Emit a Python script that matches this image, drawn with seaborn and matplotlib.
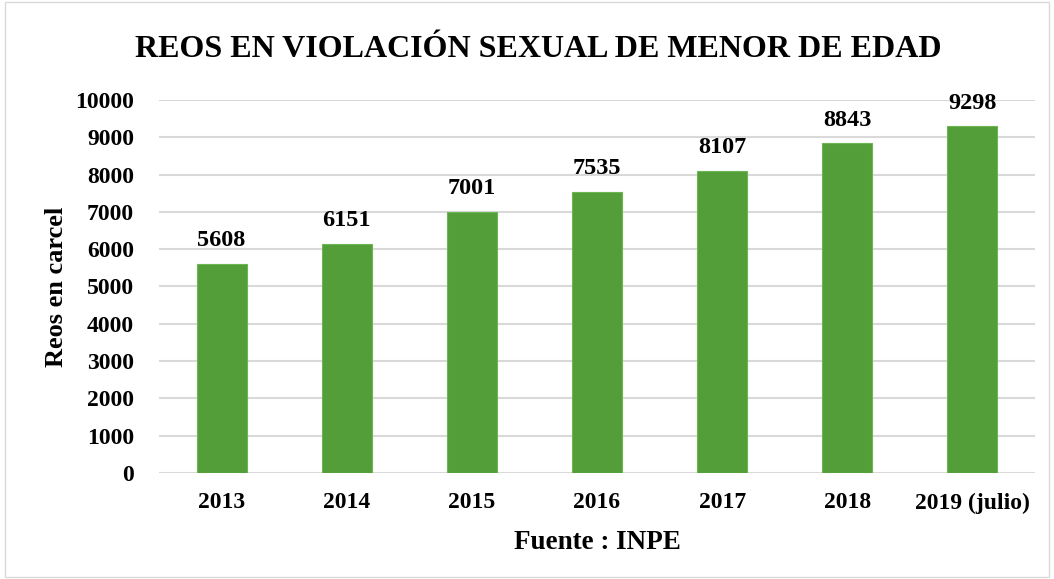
import matplotlib
matplotlib.use("Agg")
import matplotlib.pyplot as plt
import pandas as pd
import seaborn as sns

# data
years = ["2013", "2014", "2015", "2016", "2017", "2018", "2019 (julio)"]
reos = [5608, 6151, 7001, 7535, 8107, 8843, 9298]
y_ticks = list(range(0, 10001, 1000))

df = pd.DataFrame({"anio": years, "reos": reos})

sns.set_theme(style="white")
plt.rcParams["font.family"] = ["Liberation Serif", "DejaVu Serif"]
plt.rcParams["font.weight"] = "bold"
plt.rcParams["text.color"] = "black"
plt.rcParams["axes.labelcolor"] = "black"
plt.rcParams["xtick.color"] = "black"
plt.rcParams["ytick.color"] = "black"

fig = plt.figure(figsize=(10.54, 5.79), dpi=100)
ax = fig.add_axes([0.1509, 0.1831, 0.8311, 0.6442])

sns.barplot(data=df, x="anio", y="reos", color="#549E39", saturation=1,
            width=0.4, edgecolor="#6DB552", linewidth=0.8, ax=ax, zorder=3)

ax.set_ylim(0, 10000)
ax.set_yticks(y_ticks)
ax.yaxis.grid(True, color="#D9D9D9", linewidth=1.5, zorder=0)
ax.xaxis.grid(False)
for s in ax.spines.values():
    s.set_visible(False)
ax.tick_params(axis="both", length=0, labelsize=17)
ax.tick_params(axis="y", pad=18)
ax.tick_params(axis="x", pad=14)
for lab in ax.get_xticklabels() + ax.get_yticklabels():
    lab.set_fontweight("bold")

for p, v in zip(ax.patches, reos):
    ax.annotate(str(v), (p.get_x() + p.get_width() / 2, p.get_height()),
                xytext=(0, 9), textcoords="offset points", ha="center",
                va="bottom", fontsize=17.5, fontweight="bold")

ax.set_xlabel("Fuente : INPE", fontsize=19.5, fontweight="bold", labelpad=12)
ax.set_ylabel("Reos en carcel", fontsize=19, fontweight="bold", labelpad=5)
fig.suptitle("REOS EN VIOLACIÓN SEXUAL DE MENOR DE EDAD", fontsize=23,
             fontweight="bold", x=0.511, y=0.94)

# thin light border around the whole chart
fig.patches.append(plt.Rectangle((0.005, 0.004), 0.99, 0.992, fill=False,
                                 edgecolor="#D9D9D9", linewidth=1,
                                 transform=fig.transFigure))

fig.savefig("out.png", dpi=100)
